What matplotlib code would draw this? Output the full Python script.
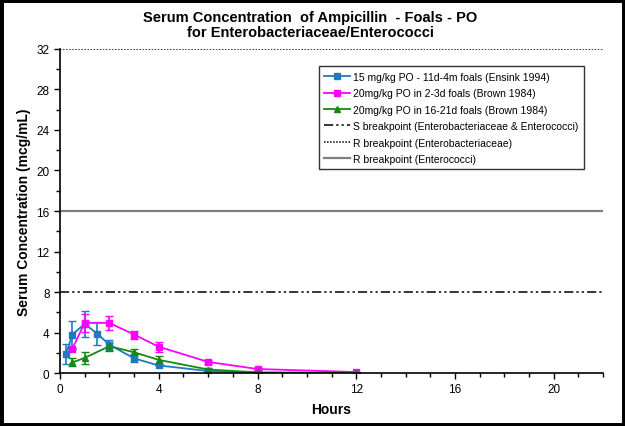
import numpy as np
import matplotlib
matplotlib.use("Agg")
import matplotlib.pyplot as plt
from matplotlib.patches import Rectangle
from matplotlib.ticker import MultipleLocator

plt.rcParams['font.family'] = ['Liberation Sans', 'DejaVu Sans']

# Ensink 1994, 15 mg/kg PO, 11d-4m foals
hrs_ensink = [0.25, 0.5, 1, 1.5, 2, 3, 4, 6, 8]
conc_ensink = [1.9, 3.8, 4.85, 3.9, 2.8, 1.45, 0.75, 0.2, 0.05]
err_ensink = [1.0, 1.35, 1.3, 1.1, 0.5, 0.4, 0, 0, 0]

# Brown 1984, 20 mg/kg PO, 2-3d foals
hrs_brown_a = [0.5, 1, 2, 3, 4, 6, 8, 12]
conc_brown_a = [2.4, 4.95, 4.95, 3.8, 2.6, 1.1, 0.4, 0.1]
err_brown_a = [0, 0.9, 0.7, 0.4, 0.5, 0.2, 0.1, 0]

# Brown 1984, 20 mg/kg PO, 16-21d foals
hrs_brown_b = [0.5, 1, 2, 3, 4, 6, 8, 12]
conc_brown_b = [1.05, 1.5, 2.65, 2.05, 1.3, 0.35, 0.07, 0.02]
err_brown_b = [0.4, 0.6, 0.45, 0.3, 0.4, 0.1, 0, 0]

s_bp = 8
r_bp_entero = 32
r_bp_enterococci = 16

fig = plt.figure(figsize=(6.25, 4.27), dpi=100)
ax = fig.add_axes([0.096, 0.124, 0.869, 0.759])

h1 = ax.errorbar(hrs_ensink, conc_ensink, yerr=err_ensink, color='#1f78c0', marker='s', ms=5,
                 lw=1.3, capsize=3, elinewidth=1.2, label='15 mg/kg PO - 11d-4m foals (Ensink 1994)')
h2 = ax.errorbar(hrs_brown_a, conc_brown_a, yerr=err_brown_a, color='#ff00ff', marker='s', ms=5,
                 lw=1.3, capsize=3, elinewidth=1.2, label='20mg/kg PO in 2-3d foals (Brown 1984)')
h3 = ax.errorbar(hrs_brown_b, conc_brown_b, yerr=err_brown_b, color='#138a13', marker='^', ms=5,
                 lw=1.3, capsize=3, elinewidth=1.2, label='20mg/kg PO in 16-21d foals (Brown 1984)')

h4 = ax.axhline(s_bp, color='black', lw=1.1, ls=(0, (6, 2, 1.5, 2, 1.5, 2)),
                label='S breakpoint (Enterobacteriaceae & Enterococci)')
h5 = ax.axhline(r_bp_entero, color='black', lw=1.1, ls=(0, (1, 1)),
                label='R breakpoint (Enterobacteriaceae)')
h6 = ax.axhline(r_bp_enterococci, color='#808080', lw=1.6, ls='-',
                label='R breakpoint (Enterococci)')

ax.set_xlim(0, 22)
ax.set_ylim(0, 32)
ax.xaxis.set_major_locator(MultipleLocator(4))
ax.xaxis.set_minor_locator(MultipleLocator(1))
ax.yaxis.set_major_locator(MultipleLocator(4))
ax.yaxis.set_minor_locator(MultipleLocator(2))
ax.tick_params(which='both', direction='out', labelsize=8.5, colors='black')
ax.tick_params(which='major', length=4, width=1)
ax.tick_params(which='minor', length=3, width=1)
for side in ['top', 'right']:
    ax.spines[side].set_visible(False)
for side in ['left', 'bottom']:
    ax.spines[side].set_linewidth(1.2)

ax.set_xlabel('Hours', fontsize=10, fontweight='bold', labelpad=5)
ax.set_ylabel('Serum Concentration (mcg/mL)', fontsize=10, fontweight='bold', labelpad=4)

fig.suptitle('Serum Concentration  of Ampicillin  - Foals - PO\nfor Enterobacteriaceae/Enterococci',
             x=0.496, y=0.975, fontsize=10.5, fontweight='bold', linespacing=1.1)

leg = ax.legend(handles=[h1[0], h2[0], h3[0], h4, h5, h6],
                labels=[h.get_label() for h in [h1, h2, h3, h4, h5, h6]],
                loc='upper right', bbox_to_anchor=(0.974, 0.962), fontsize=7.5,
                frameon=True, fancybox=False, edgecolor='black', handlelength=2.5,
                borderpad=0.5, labelspacing=0.62, handletextpad=0.3)
leg.get_frame().set_linewidth(1.0)

fig.patches.append(Rectangle((0, 0), 1, 1, transform=fig.transFigure, fill=False,
                             edgecolor='black', lw=5, zorder=10))

fig.savefig('out.png', dpi=100)
